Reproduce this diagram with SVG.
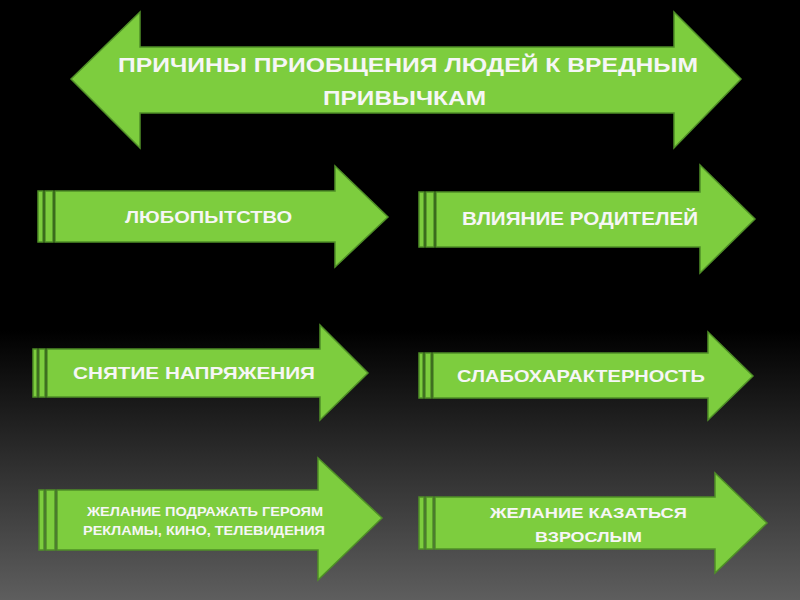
<svg xmlns="http://www.w3.org/2000/svg" width="800" height="600" viewBox="0 0 800 600">
<defs>
<linearGradient id="bg" x1="0" y1="0" x2="0" y2="1">
<stop offset="0" stop-color="#000"/>
<stop offset="0.55" stop-color="#000"/>
<stop offset="1" stop-color="#5e5e5e"/>
</linearGradient>
<style>
.ar{fill:#7dcd3e;stroke:#4f8f27;stroke-width:1.5;stroke-linejoin:miter}
.t{fill:#f6f6f6;font-family:"Liberation Sans","Noto Sans",Arial,sans-serif;font-weight:bold}
</style>
</defs>
<rect width="800" height="600" fill="url(#bg)"/>
<g id="title">
<path class="ar" d="M71,79 L140,12 L140,47 L674,47 L674,12 L741,79 L674,148 L674,113 L140,113 L140,148 Z"/>
<text class="t" x="118" y="72" font-size="20" textLength="580" lengthAdjust="spacingAndGlyphs">ПРИЧИНЫ ПРИОБЩЕНИЯ ЛЮДЕЙ К ВРЕДНЫМ</text>
<text class="t" x="323" y="105" font-size="20" textLength="163" lengthAdjust="spacingAndGlyphs">ПРИВЫЧКАМ</text>
</g>
<g id="n1">
<rect class="ar" x="38" y="191" width="5" height="51"/>
<rect class="ar" x="45" y="191" width="8" height="51"/>
<path class="ar" d="M55,191 L335,191 L335,166 L388,217 L335,267 L335,242 L55,242 Z"/>
<text class="t" x="125" y="223" font-size="17" textLength="167" lengthAdjust="spacingAndGlyphs">ЛЮБОПЫТСТВО</text>
</g>
<g id="n2">
<rect class="ar" x="419" y="192" width="5" height="55"/>
<rect class="ar" x="426" y="192" width="8" height="55"/>
<path class="ar" d="M436,192 L700,192 L700,165 L755,219 L700,273 L700,247 L436,247 Z"/>
<text class="t" x="462" y="225" font-size="18" textLength="236" lengthAdjust="spacingAndGlyphs">ВЛИЯНИЕ РОДИТЕЛЕЙ</text>
</g>
<g id="n3">
<rect class="ar" x="33" y="349" width="4" height="48"/>
<rect class="ar" x="39" y="349" width="6" height="48"/>
<path class="ar" d="M47,349 L320,349 L320,325 L368,373 L320,420 L320,397 L47,397 Z"/>
<text class="t" x="73" y="379" font-size="17" textLength="242" lengthAdjust="spacingAndGlyphs">СНЯТИЕ НАПРЯЖЕНИЯ</text>
</g>
<g id="n4">
<rect class="ar" x="419" y="353" width="4" height="45"/>
<rect class="ar" x="425" y="353" width="6" height="45"/>
<path class="ar" d="M433,353 L708,353 L708,332 L753,376 L708,420 L708,398 L433,398 Z"/>
<text class="t" x="457" y="382" font-size="17" textLength="248" lengthAdjust="spacingAndGlyphs">СЛАБОХАРАКТЕРНОСТЬ</text>
</g>
<g id="n5">
<rect class="ar" x="39" y="490" width="5" height="60"/>
<rect class="ar" x="46" y="490" width="9" height="60"/>
<path class="ar" d="M57,490 L318,490 L318,458 L382,518 L318,580 L318,550 L57,550 Z"/>
<text class="t" x="87" y="516" font-size="13" textLength="236" lengthAdjust="spacingAndGlyphs">ЖЕЛАНИЕ ПОДРАЖАТЬ ГЕРОЯМ</text>
<text class="t" x="83" y="535" font-size="13" textLength="242" lengthAdjust="spacingAndGlyphs">РЕКЛАМЫ, КИНО, ТЕЛЕВИДЕНИЯ</text>
</g>
<g id="n6">
<rect class="ar" x="419" y="497" width="5" height="52"/>
<rect class="ar" x="426" y="497" width="7" height="52"/>
<path class="ar" d="M435,497 L715,497 L715,473 L767,523 L715,573 L715,549 L435,549 Z"/>
<text class="t" x="490" y="518" font-size="15" textLength="197" lengthAdjust="spacingAndGlyphs">ЖЕЛАНИЕ КАЗАТЬСЯ</text>
<text class="t" x="535" y="542" font-size="15" textLength="107" lengthAdjust="spacingAndGlyphs">ВЗРОСЛЫМ</text>
</g>
<g id="connectors"/>
</svg>
